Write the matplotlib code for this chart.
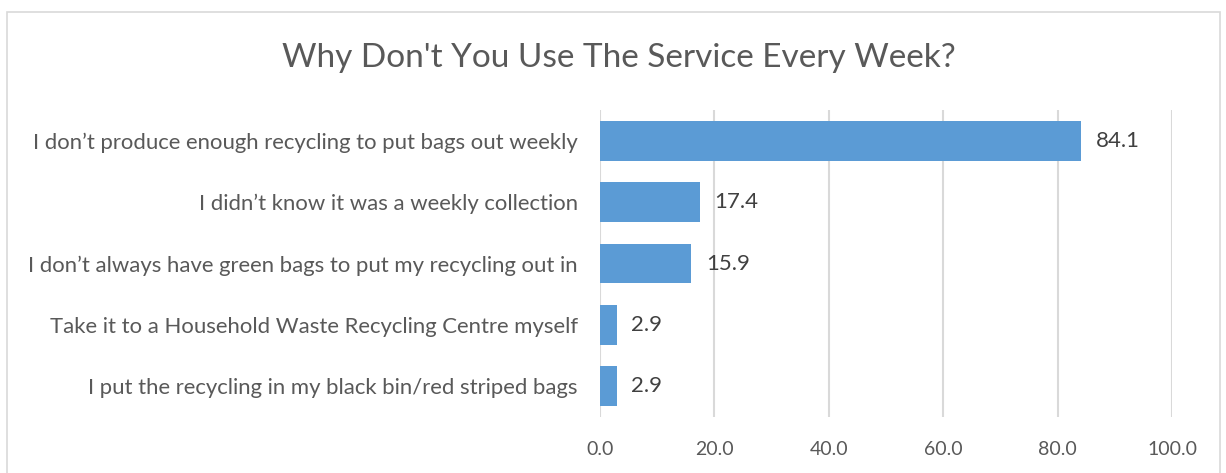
import matplotlib
matplotlib.use("Agg")
import matplotlib.pyplot as plt
from matplotlib.patches import Rectangle

# data
reasons = [
    "I don\u2019t produce enough recycling to put bags out weekly",
    "I didn\u2019t know it was a weekly collection",
    "I don\u2019t always have green bags to put my recycling out in",
    "Take it to a Household Waste Recycling Centre myself",
    "I put the recycling in my black bin/red striped bags",
]
percent = [84.1, 17.4, 15.9, 2.9, 2.9]
x_ticks = [0, 20, 40, 60, 80, 100]

plt.rcParams['font.family'] = ['Lato', 'DejaVu Sans']
grey = '#595959'

fig = plt.figure(figsize=(12.26, 4.73), dpi=100)
fig.patches.append(Rectangle((7 / 1226, -0.05), 1213 / 1226, 1 - 12 / 473 + 0.05,
                             transform=fig.transFigure, fill=False,
                             edgecolor='#d9d9d9', linewidth=1.2))

ax = fig.add_axes([600 / 1226, 1 - 417 / 473, 572 / 1226, 307 / 473])
pos = list(range(len(reasons)))
ax.barh(pos, percent, height=0.65, color='#5B9BD5', zorder=3)
ax.set_ylim(len(reasons) - 0.5, -0.5)
ax.set_xlim(0, 100)
ax.set_xticks(x_ticks)
ax.set_xticklabels([f"{t:.1f}" for t in x_ticks])
ax.set_yticks(pos)
ax.set_yticklabels(reasons, fontsize=15.9)
ax.tick_params(axis='both', length=0, colors=grey)
ax.tick_params(axis='x', labelsize=14, pad=17)
ax.tick_params(axis='y', pad=16)
ax.grid(axis='x', color='#d9d9d9', linewidth=1.5, zorder=0)
for s in ax.spines.values():
    s.set_visible(False)

for p, v in zip(pos, percent):
    ax.text(v + 2.6, p, f"{v:.1f}", va='center', ha='left', fontsize=16, color='#404040')

fig.text(619 / 1226, 1 - 58 / 473, "Why Don't You Use The Service Every Week?",
         ha='center', va='center', fontsize=24, color=grey)

fig.savefig("out.png", dpi=100)
